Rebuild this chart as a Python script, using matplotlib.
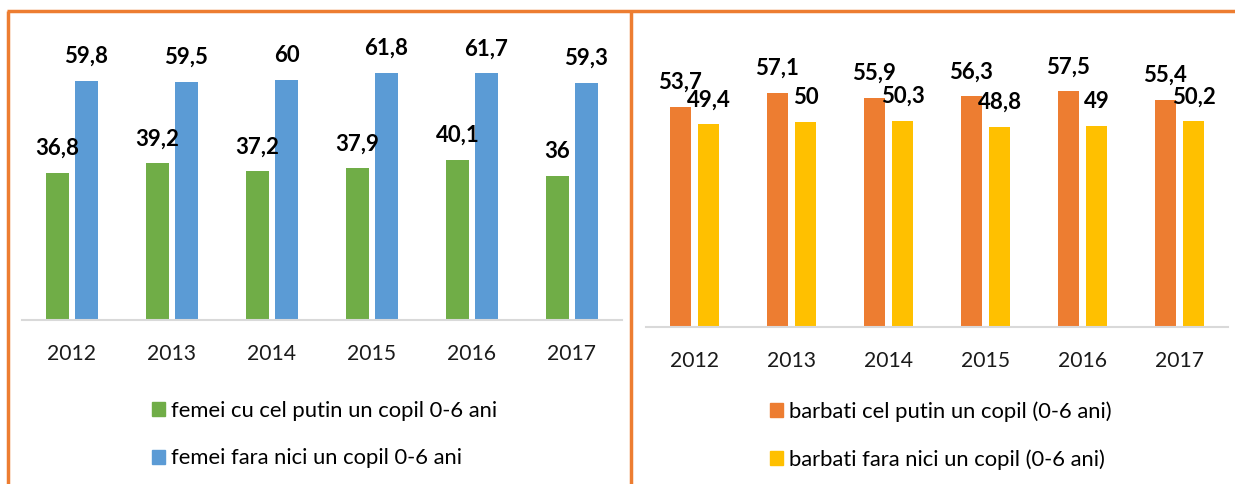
import matplotlib
matplotlib.use("Agg")
import matplotlib.pyplot as plt
from matplotlib.patches import Patch
from matplotlib.lines import Line2D
import numpy as np

plt.rcParams['font.family'] = ['Lato', 'DejaVu Sans']

years = ['2012', '2013', '2014', '2015', '2016', '2017']

# femei
femei_cu_copil = [36.8, 39.2, 37.2, 37.9, 40.1, 36.0]
femei_fara_copil = [59.8, 59.5, 60.0, 61.8, 61.7, 59.3]
femei_labels = ['femei cu cel putin un copil 0-6 ani', 'femei fara nici un copil 0-6 ani']

# barbati
barbati_cu_copil = [53.7, 57.1, 55.9, 56.3, 57.5, 55.4]
barbati_fara_copil = [49.4, 50.0, 50.3, 48.8, 49.0, 50.2]
barbati_labels = ['barbati cel putin un copil (0-6 ani)', 'barbati fara nici un copil (0-6 ani)']

GREEN = '#70AD47'
BLUE = '#5B9BD5'
ORANGE = '#ED7D31'
YELLOW = '#FFC000'

W, H = 1235, 484
fig = plt.figure(figsize=(W / 100, H / 100), dpi=100)


def fmt(v):
    s = ('%.1f' % v).replace('.', ',')
    if s.endswith(',0'):
        s = s[:-2]
    return s


def panel(rect, s1, s2, c1, c2, labels, leg_x):
    ax = fig.add_axes(rect)
    x = np.arange(len(years))
    off = 0.145
    bw = 0.225
    b1 = ax.bar(x - off, s1, bw, color=c1)
    b2 = ax.bar(x + off, s2, bw, color=c2)
    for bars, vals in ((b1, s1), (b2, s2)):
        for b, v in zip(bars, vals):
            ax.annotate(fmt(v), (b.get_x() + b.get_width() / 2, v),
                        xytext=(0, 17.5), textcoords='offset points',
                        ha='center', va='center', fontsize=16, fontweight='bold',
                        color='black')
    ax.set_xlim(-0.5, len(years) - 0.5)
    ax.set_ylim(0, 70)
    ax.set_xticks(x)
    ax.set_xticklabels(years, fontsize=15.2, color='#1a1a1a')
    ax.tick_params(axis='x', length=0, pad=17)
    ax.set_yticks([])
    for sp in ('top', 'right', 'left'):
        ax.spines[sp].set_visible(False)
    ax.spines['bottom'].set_color('#d9d9d9')
    ax.spines['bottom'].set_linewidth(1.5)
    ax.patch.set_alpha(0)
    handles = [Patch(color=c1), Patch(color=c2)]
    fig.legend(handles, labels, loc='upper left',
               bbox_to_anchor=(leg_x / W, 1 - 401 / H),
               frameon=False, fontsize=15.8, handlelength=0.6, handleheight=0.6,
               handletextpad=0.28, labelspacing=1.25, borderaxespad=0, borderpad=0)
    return ax


panel([22 / W, (H - 320) / H, 600 / W, 280 / H],
      femei_cu_copil, femei_fara_copil, GREEN, BLUE, femei_labels, 152)
panel([646 / W, (H - 327) / H, 582 / W, 287 / H],
      barbati_cu_copil, barbati_fara_copil, ORANGE, YELLOW, barbati_labels, 770)

# orange frame lines
frame = dict(color=ORANGE, linewidth=2.5, transform=fig.transFigure, solid_capstyle='butt')
fig.add_artist(Line2D([7 / W, 1], [1 - 11 / H, 1 - 11 / H], **frame))
fig.add_artist(Line2D([8 / W, 8 / W], [0, 1 - 11 / H], **frame))
fig.add_artist(Line2D([631 / W, 631 / W], [0, 1 - 11 / H], **frame))

fig.savefig('out.png', dpi=100)
